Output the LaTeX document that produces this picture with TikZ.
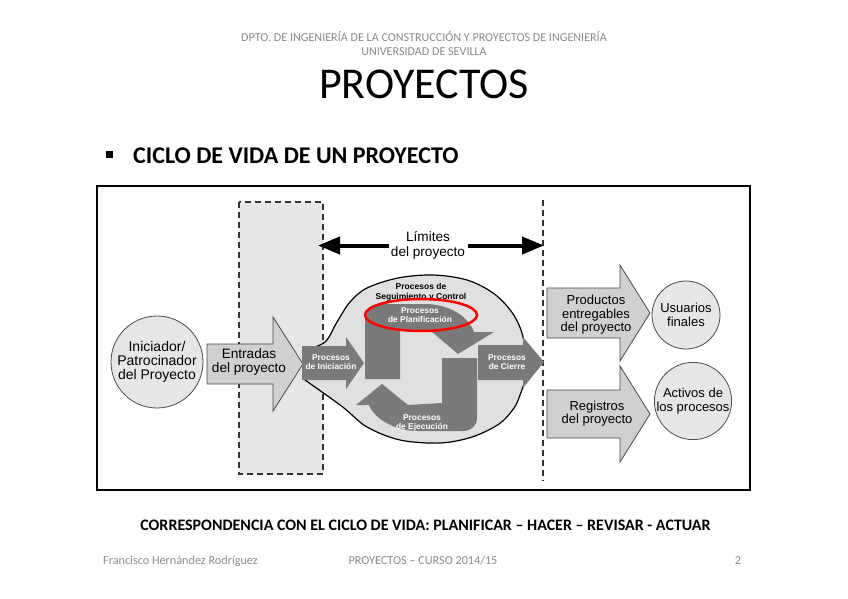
\documentclass[tikz,border=0pt]{standalone}
\usepackage{fontspec}
\setmainfont{Carlito}
\newfontfamily\arialf{Liberation Sans}
\usetikzlibrary{arrows.meta}
\definecolor{hdrgray}{HTML}{8A8A8A}
\definecolor{lightfill}{HTML}{E6E6E6}
\definecolor{arrowfill}{HTML}{D0D0D0}
\definecolor{blobfill}{HTML}{E0E0E0}
\definecolor{darkarrow}{HTML}{7A7A7A}
\definecolor{outline}{HTML}{4A4A4A}
\definecolor{dashcol}{HTML}{333333}
\begin{document}
\begin{tikzpicture}[x=1pt,y=-1pt,
  lightarrow/.style={fill=arrowfill, draw=outline, line width=0.8pt},
  darkshape/.style={fill=darkarrow},
  circnode/.style={circle, fill=lightfill, draw=outline, line width=0.8pt, inner sep=0pt, align=center, font=\arialf\fontsize{13}{13.5}\selectfont},
  bigtext/.style={align=center, inner sep=0pt, font=\arialf\fontsize{13}{13.5}\selectfont},
  whitetext/.style={align=center, inner sep=0pt, text=white, font=\arialf\bfseries\fontsize{8.4}{8.9}\selectfont},
  hdr/.style={inner sep=0pt, anchor=base, text=hdrgray},
  dashline/.style={draw=dashcol, line width=1.6pt, dash pattern=on 6pt off 4pt},
  limarrow/.style={line width=4pt, -{Triangle[length=22pt,width=17pt]}}
]
\useasboundingbox (0,0) rectangle (848,599);

% header
\node[hdr, font=\fontsize{12.1}{14}\selectfont] (h1) at (424,42) {DPTO. DE INGENIERÍA DE LA CONSTRUCCIÓN Y PROYECTOS DE INGENIERÍA};
\node[hdr, font=\fontsize{12.1}{14}\selectfont] (h2) at (424,56) {UNIVERSIDAD DE SEVILLA};
\node[inner sep=0pt, anchor=base, font=\fontsize{44}{48}\selectfont] (title) at (424,99) {PROYECTOS};
\fill (106,151) rectangle (113,158);
\node[inner sep=0pt, anchor=base west, font=\bfseries\fontsize{24}{26}\selectfont] (sub) at (133,163) {CICLO DE VIDA DE UN PROYECTO};

% frame
\draw[line width=1.5pt] (97,186) rectangle (750,490);

% dashed boundary
\draw[dashline, fill=lightfill] (239,202) rectangle (323,474);
\draw[dashline] (543,200) -- (543,481);

% Iniciador circle
\node[circnode, minimum size=92pt, font=\arialf\fontsize{14}{13.8}\selectfont] (ini) at (157,362) {Iniciador/\\Patrocinador\\del Proyecto};

% Entradas arrow
\draw[lightarrow] (207,344) -- (273,344) -- (273,317) -- (303,364) -- (273,411) -- (273,384) -- (207,384) -- cycle;
\node[bigtext, font=\arialf\fontsize{13.6}{14}\selectfont] (entr) at (249,362) {Entradas\\del proyecto};

% blob
\draw[fill=blobfill, line width=1.2pt] plot[smooth, tension=0.55] coordinates {(305,350) (325,342) (337,322) (350,302) (367,288) (398,278) (433,275) (467,280) (493,293) (511,311) (521,330) (525,350) (525,378) (520,395) (514,408) (499,424) (472,437) (440,443) (400,440) (367,427) (344,408) (322,392) (305,380)} -- cycle;

% Planificacion arrow
\fill[darkshape] (365,379) -- (365,318) .. controls (365,309) and (371,304) .. (380,304) -- (425,304) .. controls (447,304) and (468,315) .. (474,332) -- (494,332) -- (458,354) -- (432,332) -- (400,330) -- (400,379) -- cycle;
% Ejecucion arrow
\fill[darkshape] (477,358) -- (477,418) .. controls (477,426) and (471,431) .. (463,431) -- (418,431) .. controls (396,431) and (375,420) .. (369,405) -- (356,405) -- (382,384) -- (408,405) -- (442,403) -- (442,358) -- cycle;

% Iniciacion and Cierre arrows
\fill[darkshape] (302,346) -- (346,346) -- (346,337) -- (364,363) -- (346,389) -- (346,380) -- (302,380) -- cycle;
\fill[darkshape] (478,345) -- (523,345) -- (523,337) -- (544,362) -- (523,388) -- (523,380) -- (478,380) -- cycle;

\node[whitetext] (tinic) at (331,362.5) {Procesos\\de Iniciación};
\node[whitetext] (tcier) at (507,362.5) {Procesos\\de Cierre};
\node[whitetext] (tplan) at (420,315.5) {Procesos\\de Planificación};
\node[whitetext] (tejec) at (422,423) {Procesos\\de Ejecución};
\node[align=center, inner sep=0pt, font=\arialf\bfseries\fontsize{8.5}{10}\selectfont] (tseg) at (421,292) {Procesos de\\Seguimiento y Control};

% red ellipse
\draw[red, line width=2.5pt] (421,315) ellipse [x radius=56pt, y radius=16pt];

% limites
\node[bigtext, font=\arialf\fontsize{13.6}{15}\selectfont] (lim) at (428,245.5) {Límites\\del proyecto};
\coordinate (limL) at (318,245.5);
\coordinate (limR) at (544,245.5);
\draw[limarrow] ([xshift=-2pt]lim.west) -- (limL);
\draw[limarrow] ([xshift=3pt]lim.east) -- (limR);

% right arrows
\draw[lightarrow] (547,288) -- (620,288) -- (620,265) -- (650,313) -- (620,361) -- (620,338) -- (547,338) -- cycle;
\node[bigtext] (prod) at (596,315) {Productos\\entregables\\del proyecto};
\draw[lightarrow] (547,390) -- (620,390) -- (620,366) -- (650,414) -- (620,462) -- (620,438) -- (547,438) -- cycle;
\node[bigtext] (regi) at (597,413.5) {Registros\\del proyecto};

\node[circnode, minimum size=68pt] (usu) at (686,315) {Usuarios\\finales};
\node[circnode, minimum size=76pt] (act) at (693,401) {Activos de\\los procesos};

% bottom
\node[inner sep=0pt, anchor=base, font=\bfseries\fontsize{16}{18}\selectfont] (corr) at (425.5,530) {CORRESPONDENCIA CON EL CICLO DE VIDA: PLANIFICAR – HACER – REVISAR - ACTUAR};
\node[hdr, anchor=base west, font=\fontsize{12.2}{14}\selectfont] (f1) at (103,564) {Francisco Hernández Rodríguez};
\node[hdr, font=\fontsize{12.2}{14}\selectfont] (f2) at (423,564) {PROYECTOS – CURSO 2014/15};
\node[hdr, font=\fontsize{12.2}{14}\selectfont] (f3) at (738,564) {2};
\end{tikzpicture}
\end{document}
